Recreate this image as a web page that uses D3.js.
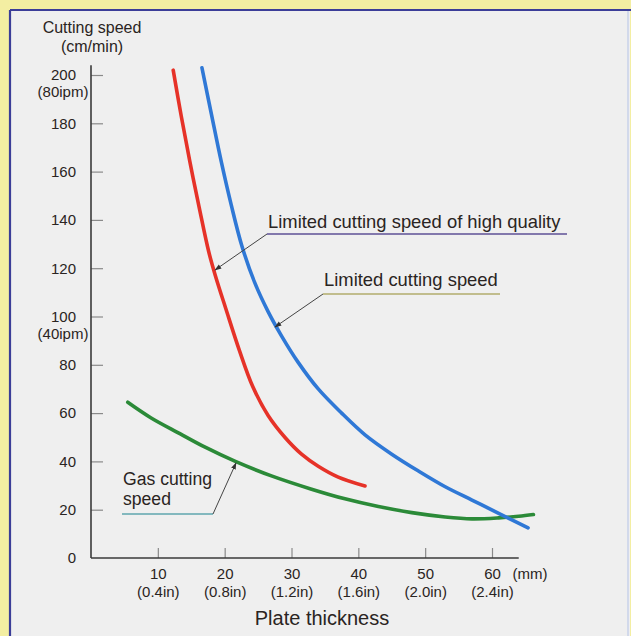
<!DOCTYPE html>
<html>
<head>
<meta charset="utf-8">
<title>cutting speed</title>
<script src="https://d3js.org/d3.v7.min.js"></script>
<style>
  body { margin: 0; background: #f3eea2; }
  text { font-family: "Liberation Sans", Arial, sans-serif; fill: #2a2422; }
</style>
</head>
<body>
<svg width="631" height="636" id="mainsvg"></svg>
<script>
// plate thickness (mm) vs cutting speed (cm/min)
const redThick  = [12.3, 13.5, 14.8, 16.2, 17.6, 18.6, 20.2, 22.2, 24.2, 26.5, 29, 31.5, 34, 37, 41];
const redSpeed  = [202, 183, 164, 145, 127, 117, 103, 86, 71, 59, 50, 43, 38, 33.5, 29.8];
const blueThick = [16.6, 18, 19.5, 21, 22.6, 24.5, 26.5, 28.5, 31, 34, 37.5, 41, 45, 49, 53, 57, 61, 65.4];
const blueSpeed = [203, 184, 164, 146, 129, 114, 102, 92, 81, 70, 60, 51, 43, 36, 29.5, 24, 18.5, 12.5];
const greenThick = [5.5, 9, 13.3, 17, 21.6, 27, 33, 38, 43, 48, 53, 57, 61, 64, 66.2];
const greenSpeed = [64.5, 58, 51.5, 46, 40, 34, 28.5, 24.5, 21.3, 18.8, 17, 16.2, 16.6, 17.3, 18];

const yTicks = [20, 40, 60, 80, 100, 120, 140, 160, 180, 200];
const yTickLabels = ["0", "20", "40", "60", "80", "100", "120", "140", "160", "180", "200"];
const ipmLabels = [[200, "(80ipm)"], [100, "(40ipm)"]];
const xTicks = [10, 20, 30, 40, 50, 60];
const xInch = ["(0.4in)", "(0.8in)", "(1.2in)", "(1.6in)", "(2.0in)", "(2.4in)"];

const svg = d3.select('#mainsvg');

// yellow page + framed grey panel
svg.append("rect").attr("width", 631).attr("height", 636).attr("fill", "#f3eea2");
svg.append("rect").attr("x", 10).attr("y", 10).attr("width", 620).attr("height", 640)
    .attr("fill", "#efefef");
svg.append("line").attr("x1", 10).attr("x2", 631).attr("y1", 10).attr("y2", 10)
    .attr("stroke", "#3b3d98").attr("stroke-width", 2.2);
svg.append("line").attr("x1", 10).attr("x2", 10).attr("y1", 10).attr("y2", 636)
    .attr("stroke", "#3b3d98").attr("stroke-width", 2.2);
svg.append("line").attr("x1", 628).attr("x2", 628).attr("y1", 11).attr("y2", 636)
    .attr("stroke", "#c9d2ea").attr("stroke-width", 1.5);

var x = d3.scaleLinear().domain([0, 60]).range([91, 492]);
var y = d3.scaleLinear().domain([0, 200]).range([558, 75]);

// axes
const yAxis = svg.append("g").attr("transform", `translate(${x(0)},0)`)
    .call(d3.axisLeft(y).tickValues([0].concat(yTicks)).tickSize(-12).tickPadding(15)
        .tickFormat((d, i) => yTickLabels[i]));
yAxis.select(".domain").remove();
yAxis.selectAll(".tick line").attr("stroke", "#8a8a8a").attr("stroke-width", 1.2)
    .filter(d => d === 0).remove();
yAxis.selectAll("text").attr("font-size", 15).style("font-family", "'Liberation Sans', Arial, sans-serif")
    .attr("fill", "#2a2422");

const xAxis = svg.append("g").attr("transform", `translate(0,${y(0)})`)
    .call(d3.axisBottom(x).tickValues(xTicks).tickSize(-10).tickPadding(0));
xAxis.select(".domain").remove();
xAxis.selectAll(".tick line").attr("stroke", "#8a8a8a").attr("stroke-width", 1.2);
xAxis.selectAll(".tick text").remove();
xAxis.selectAll(".tick").each(function (d, i) {
    const t = d3.select(this);
    t.append("text").attr("y", 21).attr("text-anchor", "middle").attr("font-size", 15)
        .text(d);
    t.append("text").attr("y", 39).attr("text-anchor", "middle").attr("font-size", 15)
        .text(xInch[i]);
});

svg.append("line").attr("x1", x(0)).attr("x2", x(0)).attr("y1", y(204)).attr("y2", y(0))
    .attr("stroke", "#3a3a3a").attr("stroke-width", 1.6);
svg.append("line").attr("x1", x(0)).attr("x2", x(64)).attr("y1", y(0)).attr("y2", y(0))
    .attr("stroke", "#3a3a3a").attr("stroke-width", 1.6);

svg.selectAll(".ipm").data(ipmLabels).join("text").attr("class", "ipm")
    .attr("x", 63).attr("y", d => y(d[0]) + 22).attr("text-anchor", "middle")
    .attr("font-size", 15).text(d => d[1]);

svg.append("text").attr("x", x(60) + 38).attr("y", y(0) + 21).attr("text-anchor", "middle")
    .attr("font-size", 15).text("(mm)");
svg.append("text").attr("x", 322).attr("y", 625).attr("text-anchor", "middle")
    .attr("font-size", 20).text("Plate thickness");
svg.append("text").attr("x", 92).attr("y", 33).attr("text-anchor", "middle")
    .attr("font-size", 16).text("Cutting speed");
svg.append("text").attr("x", 92).attr("y", 52).attr("text-anchor", "middle")
    .attr("font-size", 16).text("(cm/min)");

// curves
const line = d3.line().x(d => x(d[0])).y(d => y(d[1])).curve(d3.curveCatmullRom.alpha(0.5));
const curves = [
    [d3.zip(greenThick, greenSpeed), "#2b8a38"],
    [d3.zip(redThick, redSpeed), "#e63228"],
    [d3.zip(blueThick, blueSpeed), "#2f78d6"]
];
svg.append("g").selectAll("path").data(curves).join("path")
    .attr("d", d => line(d[0])).attr("fill", "none")
    .attr("stroke", d => d[1]).attr("stroke-width", 3.6).attr("stroke-linecap", "round");

// annotations
svg.append("defs").append("marker").attr("id", "arr")
    .attr("viewBox", "0 0 10 10").attr("refX", 9).attr("refY", 5)
    .attr("markerWidth", 7).attr("markerHeight", 7).attr("orient", "auto")
    .append("path").attr("d", "M0,1.5L10,5L0,8.5Z").attr("fill", "#333");

const notes = [
    { lines: ["Limited cutting speed of high quality"], tx: 268, ty: 228, ux2: 567, uy: 234,
      ax: 215, ay: 270, ucol: "#5e5196", fs: 18.4 },
    { lines: ["Limited cutting speed"], tx: 324, ty: 286, ux2: 500, uy: 294,
      ax: 275, ay: 327, ucol: "#b2ad6c", fs: 18.4 },
    { lines: ["Gas cutting", "speed"], tx: 123, ty: 485, ux2: 213, uy: 514,
      ax: 236, ay: 463, ucol: "#5fa6ae", knee: "end", fs: 17.6 }
];
notes.forEach(n => {
    n.lines.forEach((s, i) => {
        svg.append("text").attr("x", n.tx).attr("y", n.ty + i * 19.5)
            .attr("font-size", n.fs).text(s);
    });
    svg.append("line").attr("x1", n.tx - 1).attr("x2", n.ux2).attr("y1", n.uy).attr("y2", n.uy)
        .attr("stroke", n.ucol).attr("stroke-width", 1.4);
    const sx = n.knee === "end" ? n.ux2 : n.tx - 1;
    svg.append("line").attr("x1", sx).attr("y1", n.uy).attr("x2", n.ax).attr("y2", n.ay)
        .attr("stroke", "#444").attr("stroke-width", 1).attr("marker-end", "url(#arr)");
});
</script>
</body>
</html>
